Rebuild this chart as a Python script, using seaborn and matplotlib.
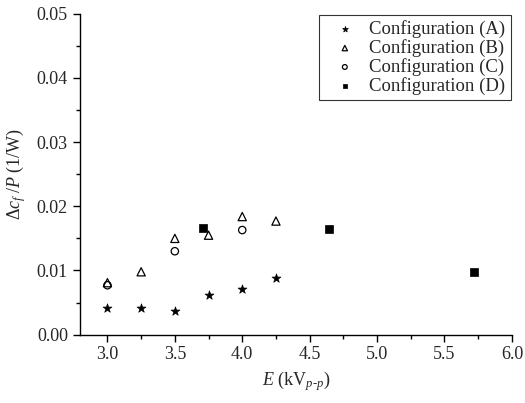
import numpy as np
import pandas as pd
import seaborn as sns
import matplotlib.pyplot as plt

# data
x_a = [3.0, 3.25, 3.5, 3.75, 4.0, 4.25]
y_a = [0.0041, 0.0042, 0.0037, 0.0062, 0.0071, 0.0088]
x_b = [3.0, 3.25, 3.5, 3.75, 4.0, 4.25]
y_b = [0.0081, 0.0098, 0.0150, 0.0155, 0.0184, 0.0177]
x_c = [3.0, 3.5, 4.0]
y_c = [0.0077, 0.0130, 0.0163]
x_d = [3.71, 4.64, 5.72]
y_d = [0.0166, 0.0164, 0.0097]

sns.set_style('ticks')
plt.rcParams['font.family'] = ['Liberation Serif', 'DejaVu Serif']
plt.rcParams['mathtext.fontset'] = 'custom'
plt.rcParams['mathtext.rm'] = 'Liberation Serif'
plt.rcParams['mathtext.it'] = 'Liberation Serif:italic'
plt.rcParams['xtick.direction'] = 'out'
plt.rcParams['ytick.direction'] = 'out'

fig = plt.figure(figsize=(5.25, 4.03), dpi=100)
ax = fig.add_axes([0.152, 0.1695, 0.823, 0.7965])

sns.scatterplot(x=x_a, y=y_a, marker='*', s=45, color='black', edgecolor='black',
                linewidth=0.5, label='Configuration (A)', ax=ax)
sns.scatterplot(x=x_b, y=y_b, marker='^', s=35, facecolor='none', edgecolor='black',
                linewidth=0.9, label='Configuration (B)', ax=ax)
sns.scatterplot(x=x_c, y=y_c, marker='o', s=28, facecolor='none', edgecolor='black',
                linewidth=0.9, label='Configuration (C)', ax=ax)
sns.scatterplot(x=x_d, y=y_d, marker='s', s=28, color='black', edgecolor='black',
                linewidth=0.5, label='Configuration (D)', ax=ax)

ax.set_xlim(2.795, 6.0)
ax.set_ylim(0, 0.05)
ax.set_xticks(np.arange(3.0, 6.01, 0.5))
ax.set_xticks(np.arange(3.25, 6.0, 0.5), minor=True)
ax.set_yticks(np.arange(0, 0.051, 0.01))
ax.set_yticks(np.arange(0.005, 0.05, 0.01), minor=True)
ax.set_xticklabels(['%.1f' % v for v in np.arange(3.0, 6.01, 0.5)])
ax.set_yticklabels(['%.2f' % v for v in np.arange(0, 0.051, 0.01)])
ax.tick_params(which='major', length=5, width=1, labelsize=13, color='black')
ax.tick_params(which='minor', length=3, width=1, color='black')
for s in ['left', 'bottom']:
    ax.spines[s].set_color('black')
    ax.spines[s].set_linewidth(1)
sns.despine(ax=ax)

ax.set_xlabel(r'$E$ (kV$_{p\text{-}p}$)', fontsize=13, labelpad=4)
ax.set_ylabel(r'$\mathit{\Delta c_f}\;/P$ (1/W)', fontsize=13, labelpad=6)

leg = ax.legend(loc='upper right', fontsize=13.5, frameon=True, fancybox=False,
                edgecolor='black', borderpad=0.3, labelspacing=0.05, markerscale=0.65,
                handletextpad=0.2, borderaxespad=0.05, handlelength=2.2)
leg.get_frame().set_linewidth(0.8)

fig.savefig('out.png', dpi=100)
